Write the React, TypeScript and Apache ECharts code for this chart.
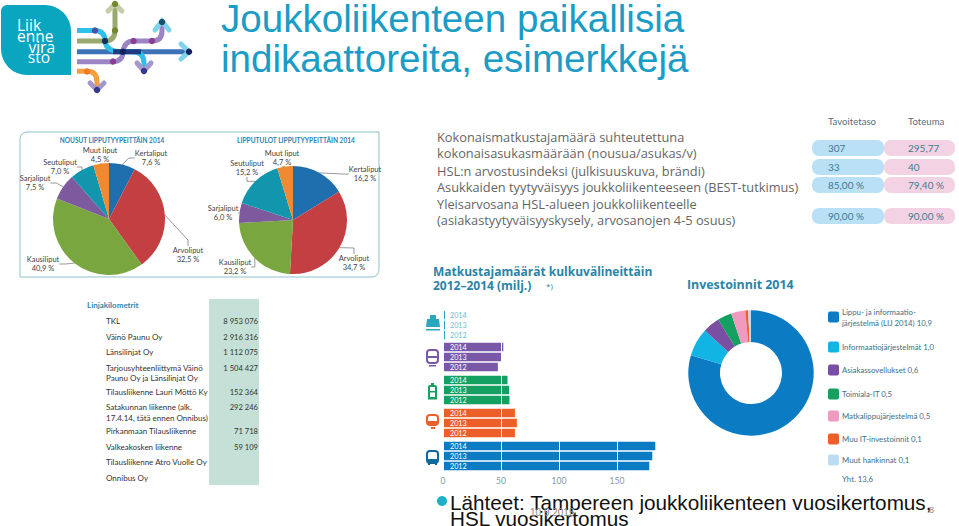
import React, { useEffect, useRef } from "react";
import * as echarts from "echarts";

const pieNames = ["Kertaliput", "Arvoliput", "Kausiliput", "Sarjaliput", "Seutuliput", "Muut liput"];
const boardingValues = [7.6, 32.5, 40.9, 7.5, 7.0, 4.5];
const revenueValues = [16.2, 34.7, 23.2, 6.0, 15.2, 4.7];
const pieColors = ["#1f6fae", "#c43f42", "#79a63f", "#7d5a9e", "#1296ad", "#f08a30"];
const boardingLabelPos = [[151, 158], [188, 255], [43, 264], [35, 183], [60, 167], [100, 155]];
const revenueLabelPos = [[365, 174], [354, 263], [235, 267], [223, 213], [247, 168], [282, 158]];

const years = ["2012", "2013", "2014"];
const ferry = [1.7, 1.7, 1.7];
const metro = [47.3, 50, 52];
const tram = [57.3, 57, 55.6];
const train = [62, 63.7, 62];
const bus = [177.8, 180.4, 183];
const modeValues = [ferry, metro, tram, train, bus];
const modeColors = ["#2aa7bd", "#7a58a8", "#14a060", "#ec5f28", "#0b7cc4"];
const modeTops = [310, 342, 375, 408, 441];

const investNames = ["Lippu- ja informaatio-\njärjestelmä (LIJ 2014) 10,9", "Informaatiojärjestelmät 1,0", "Asiakassovellukset 0,6", "Toimiala-IT 0,5", "Matkalippujärjestelmä 0,5", "Muu IT-investoinnit 0,1", "Muut hankinnat 0,1"];
const investValues = [10.9, 1.0, 0.6, 0.5, 0.5, 0.1, 0.1];
const investColors = ["#0b7cc4", "#12b4e4", "#7a4fa3", "#14a060", "#f09ac0", "#ec5f28", "#bcdcf4"];
const investY = [317, 347, 370, 394, 416, 439, 460];

const kpiLines = ["Kokonaismatkustajamäärä suhteutettuna", "kokonaisasukasmäärään (nousua/asukas/v)", "HSL:n arvostusindeksi (julkisuuskuva, brändi)", "Asukkaiden tyytyväisyys joukkoliikenteeseen (BEST-tutkimus)", "Yleisarvosana HSL-alueen joukkoliikenteelle", "(asiakastyytyväisyyskysely, arvosanojen 4-5 osuus)"];
const kpiLineY = [137, 153, 171, 187, 204, 220];
const kpiTarget = ["307", "33", "85,00 %", "90,00 %"];
const kpiActual = ["295,77", "40", "79,40 %", "90,00 %"];
const kpiRowY = [148, 167, 185, 216];

const lineNames = ["TKL", "Väinö Paunu Oy", "Länsilinjat Oy", "Tarjousyhteenliittymä Väinö", "Paunu Oy ja Länsilinjat Oy", "Tilausliikenne Lauri Möttö Ky", "Satakunnan liikenne (alk.", "17.4.14, tätä ennen Onnibus)", "Pirkanmaan Tilausliikenne", "Valkeakosken liikenne", "Tilausliikenne Atro Vuolle Oy", "Onnibus Oy"];
const lineNameY = [321, 337, 352, 368, 378, 392, 407, 418, 431, 447, 462, 478];
const lineKm = ["8 953 076", "2 916 316", "1 112 075", "1 504 427", "", "152 364", "292 246", "", "71 718", "59 109", "", ""];

const logoStrokes = [
  ["logoOrange", "M77 71.3 H87 Q97 71.3 97 82 V90", "#f5a03a"],
  ["logoOlive", "M77 41 H105 Q115 41 115 30 V6", "#9aaa6e"],
  ["logoPurple", "M77 61.7 H113 Q123 61.5 123 51 Q125 41 133 41 H152 Q162 41 162 31 V24", "#9d84c4"],
  ["logoBlue", "M77 51.7 H189", "#3e72b8"],
  ["logoCyan", "M77 30.5 H95 Q105 31 105 41 Q106 51 120 51.7 H133 Q144 52 144 63 V70", "#2fc0e8"],
];
logoStrokes.forEach(([n, d]) => echarts.graphic.registerShape(n, echarts.graphic.extendPath(d, {})));

const logoChevrons = [
  [[108, 11], [115, 4], [122, 11], "#c3cda8"],
  [[181, 44], [189, 51.7], [181, 59], "#7fd3ec"],
  [[155, 30], [162, 21], [169, 30], "#7fd3ec"],
  [[137, 63], [144, 71], [151, 63], "#a596cc"],
  [[90, 83], [97, 90], [104, 83], "#a596cc"],
];
const logoDots = [
  [115, 4, "#6f8a2e"], [115, 30.5, "#6f8a2e"], [95, 30.5, "#4c4fa8"], [105, 41, "#14305f"], [123, 51.7, "#14205f"],
  [113, 61.5, "#8b3f92"], [133.6, 41, "#8b3f92"], [152, 41, "#8b3f92"], [162, 22, "#15506a"], [189, 51.7, "#14205f"],
  [144, 71, "#2f3a8f"], [87, 71.5, "#f07a2a"], [97, 90, "#2f3a8f"],
];

const txt = (text: string, x: number, y: number, font: string, fill: string, align = "left", extra: any = {}) => ({
  type: "text", x, y, silent: true, style: { text, font, fill, align, verticalAlign: "middle", ...extra },
});

const vehicleIcons = (): any[] => {
  const c = modeColors;
  const boxed = (x: number, y: number, w: number, h: number, col: string, r = 3) => ({
    type: "rect", shape: { x, y, width: w, height: h, r }, style: { fill: "#fff", stroke: col, lineWidth: 2 },
  });
  const bar = (x: number, y: number, w: number, h: number, col: string) => ({
    type: "rect", shape: { x, y, width: w, height: h }, style: { fill: col },
  });
  return [
    { type: "polygon", shape: { points: [[427, 319], [439, 319], [440, 327], [426, 327]] }, style: { fill: c[0] } },
    bar(430, 315, 6, 4, c[0]), bar(426, 329, 14, 1.5, c[0]),
    boxed(427, 350, 11, 13, c[1]), bar(427, 356, 11, 2, c[1]), bar(429, 365, 7, 1.5, c[1]),
    boxed(429, 386, 7, 12, c[2], 1), bar(431, 383, 3, 2, c[2]), bar(428, 398, 9, 1.5, c[2]), bar(429, 391, 7, 1.5, c[2]),
    boxed(427, 415, 11, 10, c[3]), bar(427, 421, 11, 4, c[3]), bar(431, 427, 4, 2, c[3]),
    boxed(427, 451, 11, 12, "#0f6a9c"), bar(427, 459, 11, 3, "#0f6a9c"), bar(428, 463, 2, 2, "#0f6a9c"), bar(435, 463, 2, 2, "#0f6a9c"),
  ];
};

const pieSeries = (values: number[], center: number[], radius: number, pos: number[][]) => ({
  type: "pie",
  center,
  radius,
  startAngle: 90,
  clockwise: true,
  silent: true,
  data: pieNames.map((name, i) => ({ name, value: values[i], itemStyle: { color: pieColors[i] } })),
  label: {
    show: true,
    formatter: (p: any) => `${p.name}\n${p.value.toFixed(1).replace(".", ",")} %`,
    fontFamily: "Lato",
    fontSize: 7.5,
    lineHeight: 9,
    color: "#444",
    align: "center",
  },
  labelLine: { show: true, length: 6, length2: 6, lineStyle: { color: "#555", width: 0.6 } },
  labelLayout: (p: any) => ({ x: pos[p.dataIndex][0], y: pos[p.dataIndex][1], align: "center", verticalAlign: "middle" }),
});

const grids = modeTops.map((top) => ({ left: 443, top, width: 232, height: 30 }));
const xAxes = modeTops.map((_, i) => ({
  type: "value",
  gridIndex: i,
  min: 0,
  max: 200,
  interval: 50,
  z: 5,
  axisLine: { show: false },
  axisTick: { show: false },
  splitLine: { show: true, lineStyle: { color: "#fff", width: 1 } },
  axisLabel: i === 4
    ? { show: true, showMaxLabel: false, color: "#7f9aa6", fontFamily: "Lato", fontSize: 8.5, margin: 5 }
    : { show: false },
}));
const yAxes = modeTops.map((_, i) => ({
  type: "category",
  gridIndex: i,
  data: years,
  z: 6,
  axisLine: { show: false },
  axisTick: { show: false },
  axisLabel: { inside: true, interval: 0, margin: 7, color: i === 0 ? "#62c2d2" : "#fff", fontFamily: "Lato", fontSize: 7.2 },
}));
const barSeries = modeValues.map((data, i) => ({
  type: "bar",
  xAxisIndex: i,
  yAxisIndex: i,
  data,
  barWidth: 8.5,
  silent: true,
  itemStyle: { color: modeColors[i] },
}));

const buildGraphic = (): any[] => {
  const out: any[] = [];
  // logo
  out.push({ type: "rect", shape: { x: 1, y: 5, width: 70, height: 70, r: [6, 26, 0, 26] }, style: { fill: "#0aa5bf" } });
  out.push(txt("Liik", 17, 25, "15.5px 'Open Sans'", "#fff"));
  out.push(txt("enne", 17, 36, "15.5px 'Open Sans'", "#fff"));
  out.push(txt("vira", 55, 47, "15.5px 'Open Sans'", "#fff", "right"));
  out.push(txt("sto", 50, 57, "15.5px 'Open Sans'", "#fff", "right"));
  logoStrokes.forEach(([n, , col]) =>
    out.push({ type: n, x: 0, y: 0, style: { fill: "none", stroke: col, lineWidth: 5 } })
  );
  out.push({ type: "line", shape: { x1: 113, y1: 51.7, x2: 141, y2: 51.7 }, style: { stroke: "#1f3a80", lineWidth: 5 } });
  logoChevrons.forEach((c: any) =>
    out.push({ type: "polyline", shape: { points: [c[0], c[1], c[2]] }, style: { stroke: c[3], lineWidth: 5, fill: "none", lineCap: "round" } })
  );
  logoDots.forEach((d: any) => out.push({ type: "circle", shape: { cx: d[0], cy: d[1], r: 3.2 }, style: { fill: d[2] } }));

  // titles
  out.push(txt("Joukkoliikenteen paikallisia", 221, 18, "38.6px 'Liberation Sans'", "#1b9cc6"));
  out.push(txt("indikaattoreita, esimerkkejä", 221, 58, "38.6px 'Liberation Sans'", "#1b9cc6"));

  // pie panel
  out.push({ type: "rect", shape: { x: 20, y: 132, width: 359, height: 145, r: [7, 0, 7, 0] }, style: { fill: "none", stroke: "#8fc0cf", lineWidth: 1 } });
  out.push(txt("NOUSUT LIPPUTYYPEITTÄIN 2014", 112, 140, "bold 6.5px Lato", "#2a84b0", "center"));
  out.push(txt("LIPPUTULOT LIPPUTYYPEITTÄIN 2014", 296, 140, "bold 6.6px Lato", "#2a84b0", "center"));

  // KPI
  kpiLines.forEach((t, i) => out.push(txt(t, 437, kpiLineY[i], "12.8px 'Open Sans'", "#666")));
  out.push(txt("Tavoitetaso", 828, 121, "9.6px Lato", "#556f7c"));
  out.push(txt("Toteuma", 908, 121, "9.6px Lato", "#556f7c"));
  kpiRowY.forEach((y, i) => {
    out.push({ type: "rect", shape: { x: 812, y: y - 8, width: 72, height: 16, r: 7 }, style: { fill: "#b9e0f5" } });
    out.push({ type: "rect", shape: { x: 884, y: y - 8, width: 71, height: 16, r: 7 }, style: { fill: "#f3d3e3" } });
    out.push(txt(kpiTarget[i], 828, y, "10px Lato", "#3d7a90"));
    out.push(txt(kpiActual[i], 908, y, "10px Lato", "#3d7a90"));
  });

  // km table
  out.push({ type: "rect", shape: { x: 209, y: 299, width: 50, height: 186 }, style: { fill: "#c5e0d6" } });
  out.push(txt("Linjakilometrit", 87, 305, "bold 8px Lato", "#2a8aa8"));
  lineNames.forEach((t, i) => {
    out.push(txt(t, 106, lineNameY[i], "8px Lato", "#333"));
    if (lineKm[i]) out.push(txt(lineKm[i], 258, lineNameY[i], "7.6px Lato", "#333", "right"));
  });

  // bar heading & icons
  out.push(txt("Matkustajamäärät kulkuvälineittäin", 433, 271, "bold 12px 'Open Sans'", "#2a84a8"));
  out.push(txt("2012–2014 (milj.)", 433, 285, "bold 12px 'Open Sans'", "#2a84a8"));
  out.push(txt("*)", 546, 285, "8px 'Open Sans'", "#2a84a8"));
  vehicleIcons().forEach((e) => out.push(e));

  // investments
  out.push(txt("Investoinnit 2014", 687, 284, "bold 12.4px 'Open Sans'", "#2a84a8"));
  investNames.forEach((t, i) => {
    out.push({ type: "rect", shape: { x: 828, y: investY[i] - 5.5, width: 11, height: 11, r: 2 }, style: { fill: investColors[i] } });
    out.push(txt(t, 842, investY[i], "7.8px Lato", "#3d6f85", "left", { lineHeight: 11 }));
  });
  out.push(txt("Yht. 13,6", 842, 479, "7.8px Lato", "#3d6f85"));

  // footer
  out.push({ type: "circle", shape: { cx: 442, cy: 501, r: 5 }, style: { fill: "#1fb0cc" } });
  out.push(txt("Lähteet: Tampereen joukkoliikenteen vuosikertomus,", 450, 502, "20.7px 'Liberation Sans'", "#111"));
  out.push(txt("HSL vuosikertomus", 450, 518, "20.7px 'Liberation Sans'", "#111"));
  out.push(txt("10.9.2015", 530, 512, "10px 'Liberation Sans'", "#888"));
  out.push(txt("8", 929, 510, "9px 'Liberation Sans'", "#888"));
  return out;
};

export default function App() {
  const ref = useRef<HTMLDivElement>(null);
  useEffect(() => {
    const chart = echarts.init(ref.current!, undefined, { renderer: "svg" });
    chart.setOption({
      animation: false,
      backgroundColor: "#fff",
      grid: grids,
      xAxis: xAxes,
      yAxis: yAxes,
      series: [
        pieSeries(boardingValues, [109, 219], 56, boardingLabelPos),
        pieSeries(revenueValues, [293, 220], 54, revenueLabelPos),
        ...barSeries,
        {
          type: "pie",
          center: [751, 373],
          radius: [31, 62.7],
          startAngle: 90,
          silent: true,
          label: { show: false },
          labelLine: { show: false },
          data: investValues.map((value, i) => ({ value, name: investNames[i], itemStyle: { color: investColors[i] } })),
        },
      ],
      graphic: { elements: buildGraphic() },
    });
    return () => chart.dispose();
  }, []);
  return <div ref={ref} style={{ position: "absolute", left: 0, top: 0, width: 959, height: 526 }} />;
}
